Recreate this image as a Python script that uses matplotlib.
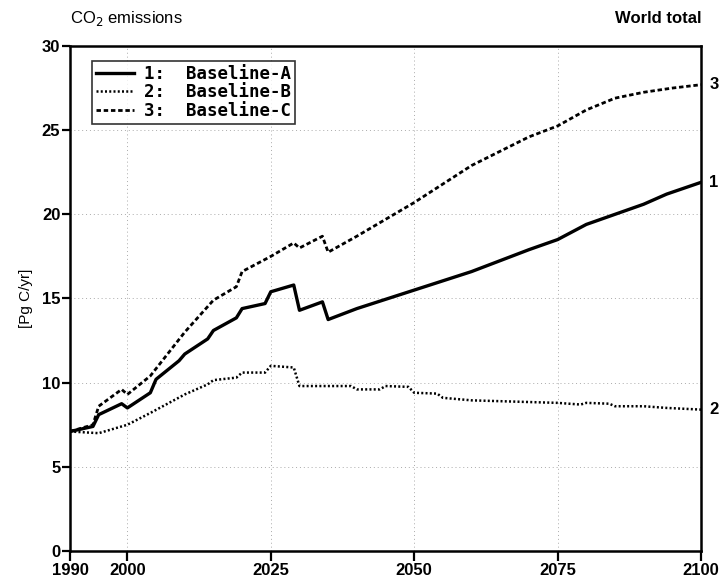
import matplotlib.pyplot as plt

# CO2 emissions, world total [Pg C/yr]
years_a = [1990, 1994, 1995, 1999, 2000, 2004, 2005, 2009, 2010, 2014, 2015, 2019, 2020,
           2024, 2025, 2029, 2030, 2034, 2035, 2040, 2050, 2060, 2070, 2075, 2080, 2090, 2094, 2100]
base_a = [7.1, 7.4, 8.1, 8.75, 8.5, 9.4, 10.2, 11.3, 11.7, 12.6, 13.1, 13.85, 14.4,
          14.7, 15.4, 15.8, 14.3, 14.8, 13.75, 14.4, 15.5, 16.6, 17.9, 18.5, 19.4, 20.6, 21.2, 21.9]

years_b = [1990, 1995, 2000, 2004, 2010, 2014, 2015, 2019, 2020, 2024, 2025, 2029, 2030,
           2035, 2039, 2040, 2044, 2045, 2049, 2050, 2054, 2055, 2060, 2075, 2079, 2080,
           2084, 2085, 2090, 2094, 2100]
base_b = [7.1, 7.0, 7.5, 8.2, 9.3, 9.9, 10.15, 10.3, 10.6, 10.6, 11.0, 10.9, 9.8,
          9.8, 9.8, 9.6, 9.6, 9.8, 9.75, 9.4, 9.35, 9.1, 8.95, 8.8, 8.7, 8.8,
          8.75, 8.6, 8.6, 8.5, 8.4]

years_c = [1990, 1994, 1995, 1999, 2000, 2004, 2010, 2015, 2019, 2020, 2025, 2029, 2030,
           2034, 2035, 2040, 2050, 2060, 2070, 2075, 2080, 2085, 2090, 2095, 2100]
base_c = [7.1, 7.5, 8.6, 9.6, 9.3, 10.4, 13.0, 14.9, 15.7, 16.6, 17.5, 18.3, 18.0,
          18.7, 17.75, 18.7, 20.7, 22.9, 24.6, 25.25, 26.2, 26.9, 27.25, 27.5, 27.7]

labels = ['1:  Baseline-A', '2:  Baseline-B', '3:  Baseline-C']
xticks = [1990, 2000, 2025, 2050, 2075, 2100]
yticks = [0, 5, 10, 15, 20, 25, 30]

plt.rcParams['font.family'] = ['Liberation Sans', 'DejaVu Sans']

fig = plt.figure(figsize=(7.21, 5.88), dpi=100)
ax = fig.add_axes([0.0971, 0.0629, 0.8752, 0.8589])

ax.plot(years_a, base_a, color='black', lw=2.4, label=labels[0])
ax.plot(years_b, base_b, color='black', lw=1.8, linestyle=(0, (0.8, 0.9)), label=labels[1])
ax.plot(years_c, base_c, color='black', lw=2.0, linestyle=(0, (1.6, 1.0)), label=labels[2])

ax.set_xlim(1990, 2100)
ax.set_ylim(0, 30)
ax.set_xticks(xticks)
ax.set_yticks(yticks)
ax.tick_params(axis='x', direction='out', length=7, width=1.6, labelsize=12, pad=1.5)
ax.tick_params(axis='y', direction='out', length=5.5, width=1.6, labelsize=12, pad=1.5)
for lab in ax.get_xticklabels() + ax.get_yticklabels():
    lab.set_fontweight('bold')

for sp in ax.spines.values():
    sp.set_linewidth(1.8)

ax.grid(True, color='#aaaaaa', linestyle=(0, (1, 3)), linewidth=0.7)

ax.set_ylabel('[Pg C/yr]', fontsize=11, labelpad=6)

# end-of-century labels next to the right axis
for val, tag in [(base_a[-1], '1'), (base_b[-1], '2'), (base_c[-1], '3')]:
    ax.annotate(tag, xy=(2100, val), xytext=(6, 0), textcoords='offset points',
                ha='left', va='center', fontsize=12, fontweight='bold',
                annotation_clip=False)

fig.text(0.0971, 0.968, 'CO$_2$ emissions', fontsize=12, ha='left', va='center')
fig.text(0.9723, 0.968, 'World total', fontsize=12, ha='right', va='center',
         fontweight='bold')

leg = ax.legend(loc='upper left', bbox_to_anchor=(0.035, 0.97), frameon=True,
                fancybox=False, edgecolor='black', handlelength=2.2, handletextpad=0.6,
                borderpad=0.2, labelspacing=0.05, borderaxespad=0,
                prop={'family': 'DejaVu Sans Mono', 'weight': 'bold', 'size': 12.5})
leg.get_frame().set_linewidth(1.2)

fig.savefig('out.png', dpi=100)
